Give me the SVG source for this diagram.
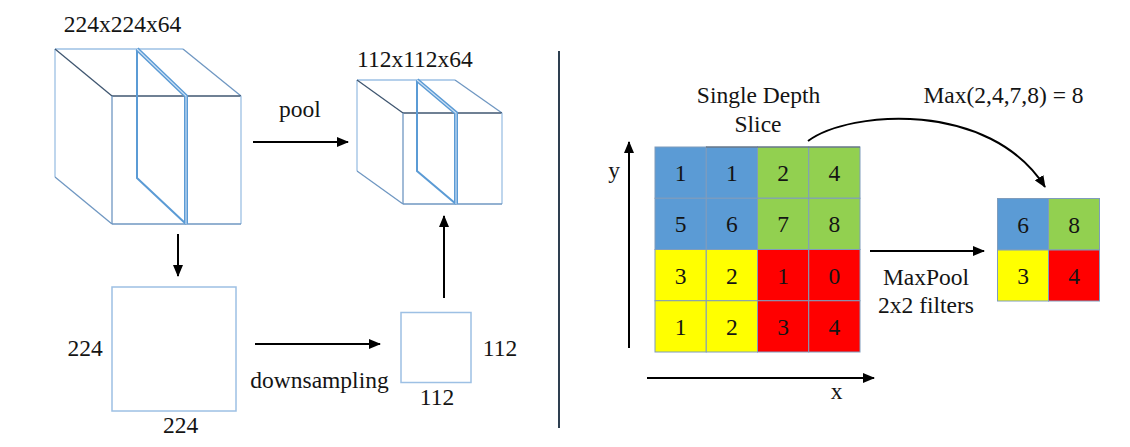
<svg xmlns="http://www.w3.org/2000/svg" width="1130" height="447" viewBox="0 0 1130 447" font-family="'Liberation Serif', 'DejaVu Serif', serif">
  <style>
    text { font-size: 23.5px; fill: #141414; text-anchor: middle; }
    .edge-l { stroke: #9dc0e4; stroke-width: 1.3; fill: none; }
    .edge-m { stroke: #6f97c2; stroke-width: 1.3; fill: none; }
    .edge-d { stroke: #3f5670; stroke-width: 1.3; fill: none; }
    .slice-s { stroke: #5b9bd5; stroke-width: 2; fill: none; }
    .slice-o { stroke: #5b9bd5; stroke-width: 4; fill: none; stroke-linejoin: miter; }
    .slice-i { stroke: #cfe1f4; stroke-width: 1.1; fill: none; }
    .arrow { stroke: #000; stroke-width: 2; fill: none; marker-end: url(#head); }
    .cell { stroke: #7f9cbc; stroke-width: 1; }
    .blue { fill: #5b9bd5; }
    .green { fill: #92d050; }
    .yellow { fill: #ffff00; }
    .red { fill: #ff0000; }
  </style>
  <defs>
    <marker id="head" viewBox="0 0 12 10" refX="11" refY="5" markerWidth="12" markerHeight="10" markerUnits="userSpaceOnUse" orient="auto">
      <path d="M0,0 L12,5 L0,10 Z" fill="#000"/>
    </marker>
  </defs>

  <rect width="1130" height="447" fill="#fff"/>

  <!-- Input volume 224x224x64 -->
  <g id="volume-in">
    <line class="edge-l" x1="55" y1="49" x2="183" y2="49"/>
    <line class="edge-l" x1="55" y1="49" x2="55" y2="177"/>
    <line class="edge-d" x1="55" y1="49" x2="112" y2="96"/>
    <line class="edge-m" x1="183" y1="49" x2="241" y2="96"/>
    <line class="edge-m" x1="55" y1="177" x2="112" y2="224"/>
    <line class="edge-d" x1="112" y1="96" x2="241" y2="96"/>
    <line class="edge-m" x1="112" y1="96" x2="112" y2="224"/>
    <line class="edge-l" x1="241" y1="96" x2="241" y2="224"/>
    <line class="edge-m" x1="112" y1="224" x2="241" y2="224"/>
    <polyline class="slice-s" points="137,49 137,178 186,224"/>
    <polyline class="slice-o" points="137,49 186,96 186,224"/>
    <polyline class="slice-i" points="137,49 186,96 186,224"/>
    <text x="122.5" y="32">224x224x64</text>
  </g>

  <!-- Pooled volume 112x112x64 -->
  <g id="volume-out">
    <line class="edge-l" x1="357" y1="80" x2="455" y2="80"/>
    <line class="edge-l" x1="357" y1="80" x2="357" y2="171"/>
    <line class="edge-d" x1="357" y1="80" x2="403" y2="113"/>
    <line class="edge-m" x1="455" y1="80" x2="502" y2="113"/>
    <line class="edge-m" x1="357" y1="171" x2="403" y2="204"/>
    <line class="edge-d" x1="403" y1="113" x2="502" y2="113"/>
    <line class="edge-m" x1="403" y1="113" x2="403" y2="204"/>
    <line class="edge-l" x1="502" y1="113" x2="502" y2="204"/>
    <line class="edge-m" x1="403" y1="204" x2="502" y2="204"/>
    <polyline class="slice-s" points="417,80 417,171 456,204"/>
    <polyline class="slice-o" points="417,80 456,113 456,204"/>
    <polyline class="slice-i" points="417,80 456,113 456,204"/>
    <text x="415" y="66.5">112x112x64</text>
  </g>

  <!-- Single 224x224 slice -->
  <g id="slice-224">
    <rect x="112" y="287" width="124" height="124" fill="#fff" stroke="#9dc0e4" stroke-width="1.5"/>
    <text x="85" y="356">224</text>
    <text x="180.5" y="433">224</text>
  </g>

  <!-- Downsampled 112x112 slice -->
  <g id="slice-112">
    <rect x="401" y="312.5" width="70" height="70" fill="#fff" stroke="#9dc0e4" stroke-width="1.5"/>
    <text x="500" y="356">112</text>
    <text x="437" y="405">112</text>
  </g>

  <!-- Divider between the two halves -->
  <g id="divider">
    <line x1="559" y1="51" x2="559" y2="428" stroke="#2e3f50" stroke-width="2"/>
  </g>

  <!-- 4x4 input depth slice -->
  <g id="input-grid">
    <text x="758.5" y="103">Single Depth</text>
    <text x="758" y="131.5">Slice</text>
    <rect class="cell blue" x="655" y="147" width="51.25" height="51.25"/>
    <rect class="cell blue" x="706.25" y="147" width="51.25" height="51.25"/>
    <rect class="cell green" x="757.5" y="147" width="51.25" height="51.25"/>
    <rect class="cell green" x="808.75" y="147" width="51.25" height="51.25"/>
    <rect class="cell blue" x="655" y="198.25" width="51.25" height="51.25"/>
    <rect class="cell blue" x="706.25" y="198.25" width="51.25" height="51.25"/>
    <rect class="cell green" x="757.5" y="198.25" width="51.25" height="51.25"/>
    <rect class="cell green" x="808.75" y="198.25" width="51.25" height="51.25"/>
    <rect class="cell yellow" x="655" y="249.5" width="51.25" height="51.25"/>
    <rect class="cell yellow" x="706.25" y="249.5" width="51.25" height="51.25"/>
    <rect class="cell red" x="757.5" y="249.5" width="51.25" height="51.25"/>
    <rect class="cell red" x="808.75" y="249.5" width="51.25" height="51.25"/>
    <rect class="cell yellow" x="655" y="300.75" width="51.25" height="51.25"/>
    <rect class="cell yellow" x="706.25" y="300.75" width="51.25" height="51.25"/>
    <rect class="cell red" x="757.5" y="300.75" width="51.25" height="51.25"/>
    <rect class="cell red" x="808.75" y="300.75" width="51.25" height="51.25"/>
    <line x1="706" y1="147" x2="860" y2="147" stroke="#5a6470" stroke-width="1.2"/>
    <text x="680.6" y="181">1</text>
    <text x="731.9" y="181">1</text>
    <text x="783.1" y="181">2</text>
    <text x="834.4" y="181">4</text>
    <text x="680.6" y="232.2">5</text>
    <text x="731.9" y="232.2">6</text>
    <text x="783.1" y="232.2">7</text>
    <text x="834.4" y="232.2">8</text>
    <text x="680.6" y="283.5">3</text>
    <text x="731.9" y="283.5">2</text>
    <text x="783.1" y="283.5">1</text>
    <text x="834.4" y="283.5">0</text>
    <text x="680.6" y="334.7">1</text>
    <text x="731.9" y="334.7">2</text>
    <text x="783.1" y="334.7">3</text>
    <text x="834.4" y="334.7">4</text>
  </g>

  <!-- Axes of the depth slice -->
  <g id="axes">
    <line class="arrow" x1="629" y1="348" x2="629" y2="142"/>
    <line class="arrow" x1="647" y1="378" x2="874" y2="378"/>
    <text x="614" y="178">y</text>
    <text x="836.5" y="399">x</text>
  </g>

  <!-- 2x2 pooled output -->
  <g id="output-grid">
    <text x="1003.5" y="103">Max(2,4,7,8) = 8</text>
    <rect class="cell blue" x="997.5" y="198.5" width="51" height="51.5"/>
    <rect class="cell green" x="1048.5" y="198.5" width="51" height="51.5"/>
    <rect class="cell yellow" x="997.5" y="250" width="51" height="51"/>
    <rect class="cell red" x="1048.5" y="250" width="51" height="51" stroke="#333"/>
    <text x="1023" y="232.5">6</text>
    <text x="1074" y="232.5">8</text>
    <text x="1023" y="284">3</text>
    <text x="1074" y="284">4</text>
  </g>

  <!-- Connectors -->
  <g id="connectors">
    <line class="arrow" x1="253" y1="142" x2="348" y2="142"/>
    <text x="300" y="117">pool</text>
    <line class="arrow" x1="178" y1="234" x2="178" y2="276"/>
    <line class="arrow" x1="255" y1="344" x2="380" y2="344"/>
    <text x="319.5" y="388">downsampling</text>
    <line class="arrow" x1="444" y1="298" x2="444" y2="216"/>
    <path class="arrow" d="M808,141 C850,110 990,100 1045,187"/>
    <line class="arrow" x1="870" y1="251" x2="984" y2="251"/>
    <text x="926" y="285">MaxPool</text>
    <text x="926" y="313">2x2 filters</text>
  </g>
</svg>
